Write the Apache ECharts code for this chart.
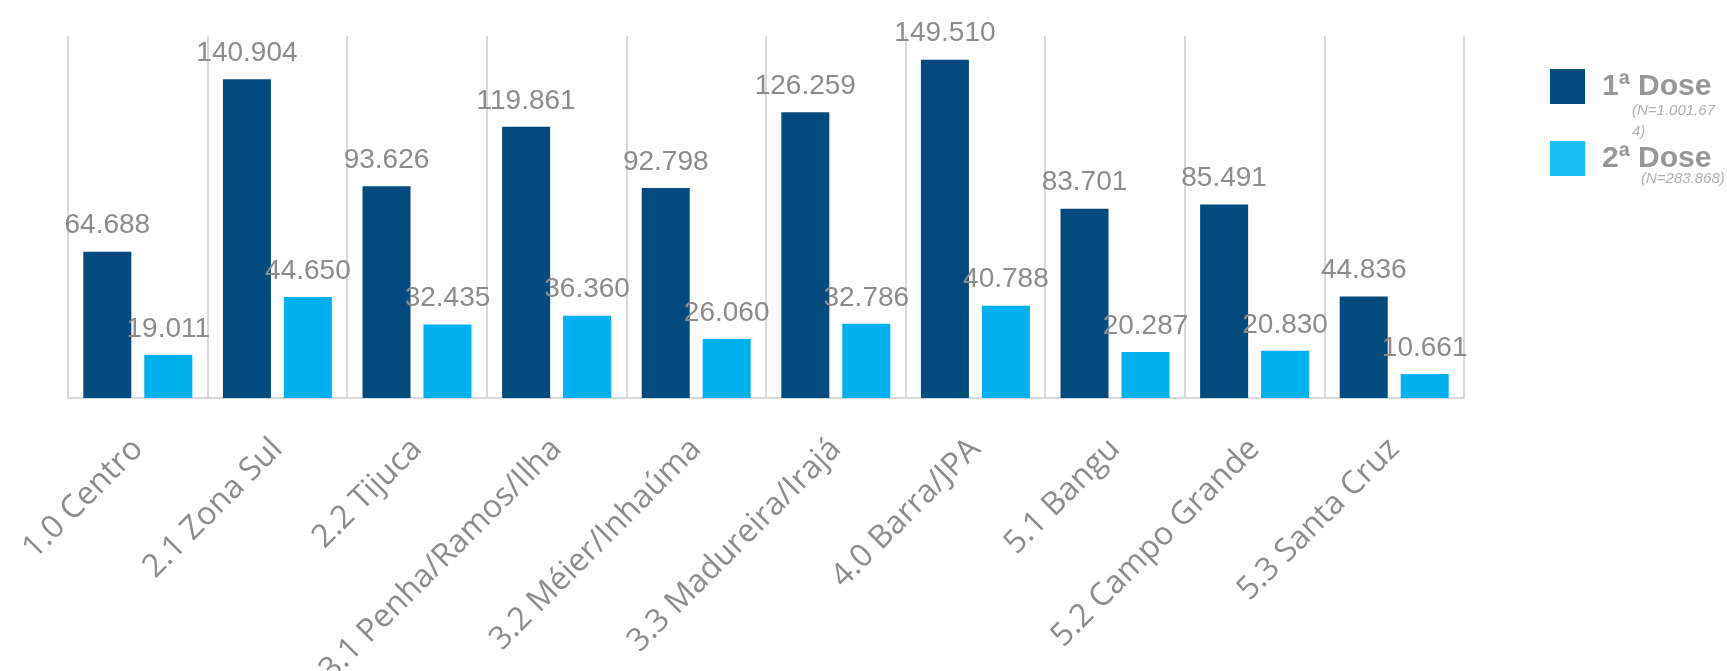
<!DOCTYPE html>
<html>
<head>
<meta charset="utf-8">
<script src="https://cdn.jsdelivr.net/npm/echarts@6/dist/echarts.min.js"></script>
<style>
html,body{margin:0;padding:0;background:#fff;}
#c{width:1727px;height:671px;}
</style>
</head>
<body>
<div id="c"></div>
<script>
const categories = ['1.0 Centro','2.1 Zona Sul','2.2 Tijuca','3.1 Penha/Ramos/Ilha','3.2 Méier/Inhaúma','3.3 Madureira/Irajá','4.0 Barra/JPA','5.1 Bangu','5.2 Campo Grande','5.3 Santa Cruz'];
const dose1 = [64688,140904,93626,119861,92798,126259,149510,83701,85491,44836];
const dose2 = [19011,44650,32435,36360,26060,32786,40788,20287,20830,10661];
const seriesNames = ['1ª Dose','2ª Dose'];
const seriesNotes = ['(N=1.001.67','4)','(N=283.868)'];

const fmt = v => (v/1000).toFixed(3);
const chart = echarts.init(document.getElementById('c'));
const labelStyle = {
  show: true, position: 'top', distance: 12,
  fontFamily: 'Liberation Sans, Arial, sans-serif', fontSize: 28, color: '#8c8c8c',
  formatter: p => fmt(p.value)
};
const noteFont = 'italic 15px "Liberation Sans", Arial';
chart.setOption({
  animation: false,
  grid: {left: 68, right: 263, top: 36, bottom: 273, containLabel: false, outerBoundsMode: 'none'},
  legend: {
    orient: 'vertical', left: 1545, top: 64,
    itemWidth: 35, itemHeight: 35, itemGap: 37,
    icon: 'rect',
    textStyle: {fontFamily: 'Liberation Sans, Arial, sans-serif', fontSize: 30, fontWeight: 'bold', color: '#979797', padding: [6,0,0,12]},
    data: [{name: seriesNames[0], itemStyle: {color: '#034a7e'}}, {name: seriesNames[1], itemStyle: {color: '#19bff3'}}]
  },
  xAxis: {
    type: 'category', data: categories,
    axisLine: {lineStyle: {color: '#d9d9d9', width: 2}},
    axisTick: {show: false},
    splitLine: {show: true, lineStyle: {color: '#d9d9d9', width: 2}},
    axisLabel: {interval: 0, rotate: 45, margin: 46, fontFamily: 'Open Sans, sans-serif', fontSize: 32, color: '#8c8c8c'}
  },
  yAxis: {type: 'value', min: 0, max: 160000, show: false, splitLine: {show: false}},
  graphic: [
    {type: 'text', left: 1632, top: 103, style: {text: seriesNotes[0], font: noteFont, fill: '#b0b0b0'}},
    {type: 'text', left: 1632, top: 124, style: {text: seriesNotes[1], font: noteFont, fill: '#b0b0b0'}},
    {type: 'text', left: 1641, top: 171, style: {text: seriesNotes[2], font: noteFont, fill: '#b0b0b0'}}
  ],
  series: [
    {name: seriesNames[0], type: 'bar', data: dose1, barWidth: 48, barGap: '27%', itemStyle: {color: '#034a7e'}, label: labelStyle},
    {name: seriesNames[1], type: 'bar', data: dose2, barWidth: 48, itemStyle: {color: '#00b0f0'}, label: labelStyle}
  ]
});
</script>
</body>
</html>
